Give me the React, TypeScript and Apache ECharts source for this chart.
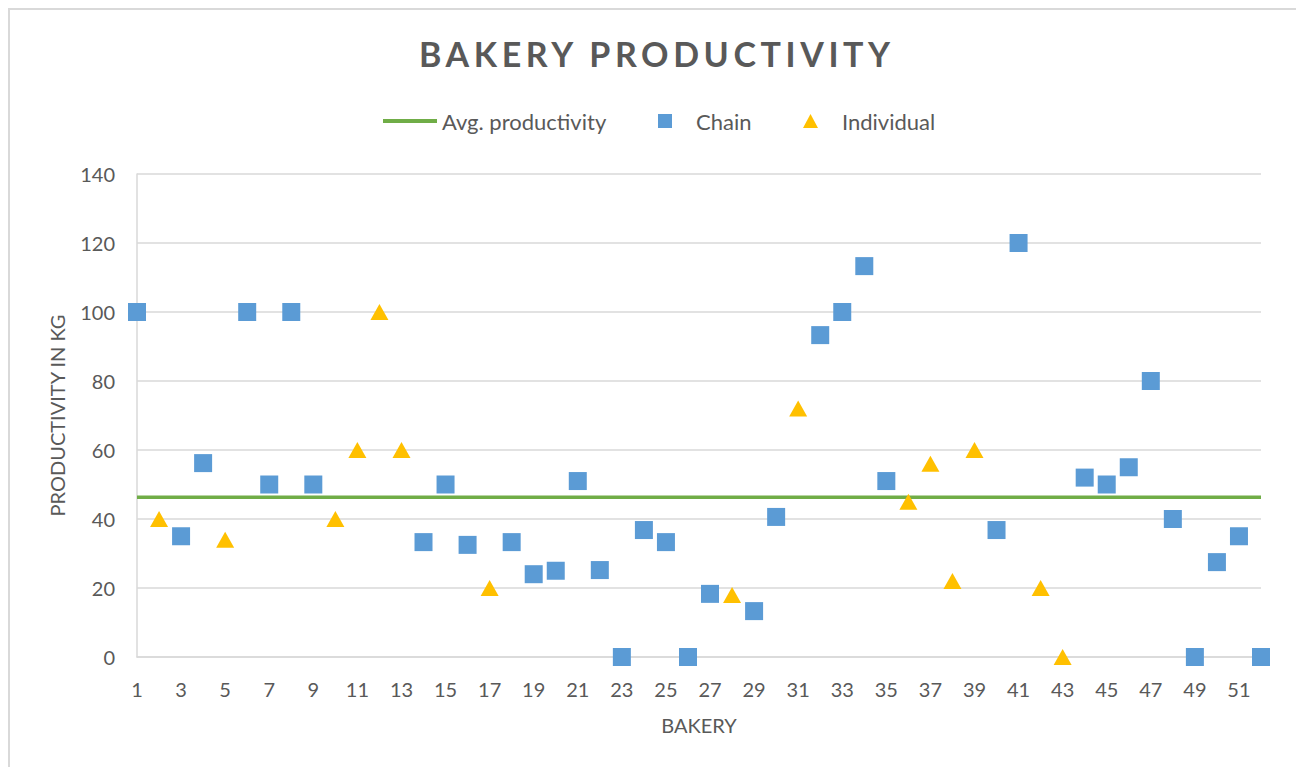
import { useEffect, useRef } from "react";
import * as echarts from "echarts";

const categories = [
  "1", "2", "3", "4", "5", "6", "7", "8", "9", "10",
  "11", "12", "13", "14", "15", "16", "17", "18", "19", "20",
  "21", "22", "23", "24", "25", "26", "27", "28", "29", "30",
  "31", "32", "33", "34", "35", "36", "37", "38", "39", "40",
  "41", "42", "43", "44", "45", "46", "47", "48", "49", "50",
  "51", "52",
];

const chainValues: (number | null)[] = [
  100, null, 35, 56.2, null, 100, 50, 100, 50, null,
  null, null, null, 33.3, 50, 32.5, null, 33.3, 24, 25,
  51, 25.2, 0, 36.8, 33.3, 0, 18.3, null, 13.3, 40.6,
  null, 93.3, 100, 113.3, 51, null, null, null, null, 36.8,
  120, null, null, 52, 50, 55, 80, 40, 0, 27.5,
  35, 0,
];

const individualValues: (number | null)[] = [
  null, 40, null, null, 34, null, null, null, null, 40,
  60, 100, 60, null, null, null, 20, null, null, null,
  null, null, null, null, null, null, null, 18, null, null,
  72, null, null, null, null, 45, 56, 22, 60, null,
  null, 20, 0, null, null, null, null, null, null, null,
  null, null,
];

const avgProductivity = 46.3;

const yTicks = { min: 0, max: 140, interval: 20 };

const TITLE = "BAKERY PRODUCTIVITY";
const FONT = "Lato, 'Open Sans', sans-serif";
const TEXT = "#595959";
const GRID = "#d9d9d9";
const GREEN = "#70ad47";
const BLUE = "#5b9bd5";
const GOLD = "#ffc000";

const legendText = { fontFamily: FONT, fontSize: 22, color: TEXT };

export default function App() {
  const ref = useRef<HTMLDivElement>(null);

  useEffect(() => {
    if (!ref.current) return;
    const chart = echarts.init(ref.current, undefined, { renderer: "svg" });
    chart.setOption({
      animation: false,
      backgroundColor: "#ffffff",
      textStyle: { fontFamily: FONT },
      graphic: [
        {
          type: "rect",
          shape: { x: 1, y: 1, width: 3000, height: 3000 },
          style: { fill: "none", stroke: GRID, lineWidth: 2 },
          silent: true,
          z: -10,
        },
      ],
      title: {
        text: TITLE,
        left: 406,
        top: 23,
        textStyle: {
          fontFamily: FONT,
          fontSize: 34,
          fontWeight: "bold",
          color: TEXT,
        },
      },
      legend: [
        {
          left: 370,
          top: 97,
          itemWidth: 54,
          itemHeight: 4,
          textStyle: legendText,
          data: [{ name: "Avg. productivity", icon: "rect" }],
        },
        {
          left: 645,
          top: 97,
          itemWidth: 14,
          itemHeight: 14,
          textStyle: { ...legendText, padding: [0, 0, 0, 19] },
          data: [{ name: "Chain", icon: "rect" }],
        },
        {
          left: 790,
          top: 97,
          itemWidth: 15,
          itemHeight: 14,
          textStyle: { ...legendText, padding: [0, 0, 0, 19] },
          data: [{ name: "Individual", icon: "triangle" }],
        },
      ],
      grid: { left: 129, top: 166, right: 43, bottom: 110, containLabel: false },
      xAxis: {
        type: "category",
        data: categories,
        boundaryGap: false,
        name: "BAKERY",
        nameLocation: "middle",
        nameGap: 58,
        nameTextStyle: { fontFamily: FONT, fontSize: 20, color: TEXT },
        axisLine: { show: true, lineStyle: { color: GRID, width: 1.5 } },
        axisTick: { show: false },
        axisLabel: {
          interval: 1,
          margin: 22,
          fontFamily: FONT,
          fontSize: 20,
          color: TEXT,
        },
        splitLine: { show: false },
      },
      yAxis: {
        type: "value",
        min: yTicks.min,
        max: yTicks.max,
        interval: yTicks.interval,
        name: "PRODUCTIVITY IN KG",
        nameLocation: "middle",
        nameGap: 70,
        nameTextStyle: { fontFamily: FONT, fontSize: 20, color: TEXT },
        axisLine: { show: true, lineStyle: { color: GRID, width: 1.5 } },
        axisTick: { show: false },
        axisLabel: { margin: 22, fontFamily: FONT, fontSize: 20, color: TEXT },
        splitLine: { show: true, lineStyle: { color: GRID, width: 1.5 } },
      },
      series: [
        {
          name: "Avg. productivity",
          type: "line",
          z: 1,
          color: GREEN,
          symbol: "none",
          lineStyle: { color: GREEN, width: 3.5 },
          data: [
            [categories[0], avgProductivity],
            [categories[categories.length - 1], avgProductivity],
          ],
        },
        {
          name: "Chain",
          type: "scatter",
          z: 3,
          symbol: "rect",
          symbolSize: 18,
          itemStyle: { color: BLUE, opacity: 1 },
          data: chainValues.map((v) => (v === null ? "-" : v)),
        },
        {
          name: "Individual",
          type: "scatter",
          z: 3,
          symbol: "triangle",
          symbolSize: [18, 16],
          itemStyle: { color: GOLD, opacity: 1 },
          data: individualValues.map((v) => (v === null ? "-" : v)),
        },
      ],
    });
    const svg = ref.current.querySelector("svg");
    if (svg) {
      svg.querySelectorAll("text").forEach((t) => {
        if (t.textContent === TITLE) t.setAttribute("letter-spacing", "4.6");
      });
    }
    return () => chart.dispose();
  }, []);

  return <div ref={ref} style={{ width: 1296, height: 759 }} />;
}
